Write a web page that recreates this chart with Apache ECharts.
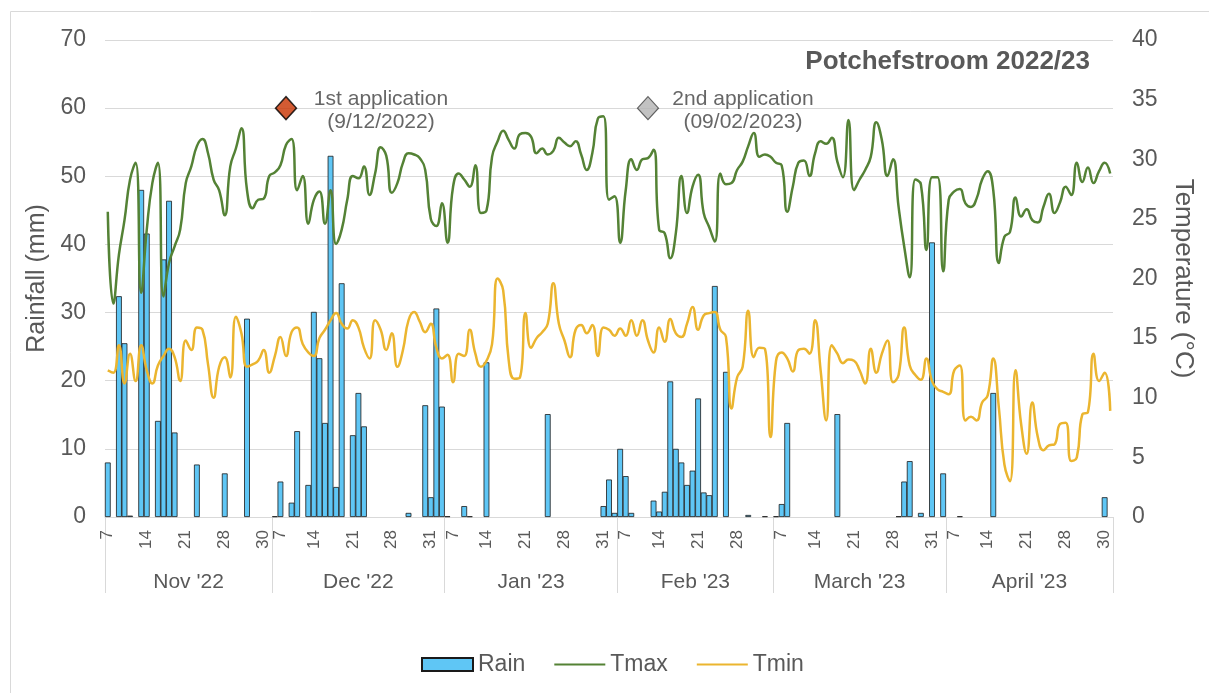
<!DOCTYPE html>
<html>
<head>
<meta charset="utf-8">
<title>Potchefstroom 2022/23</title>
<script src="https://cdn.jsdelivr.net/npm/echarts@6/dist/echarts.min.js"></script>
<style>
  html, body { margin: 0; padding: 0; background: #fff; }
  #chart { width: 1209px; height: 693px; }
</style>
</head>
<body>
<div id="chart"></div>
<script>
// month groups on the lower axis row
const monthNames = ["Nov '22", "Dec '22", "Jan '23", "Feb '23", "March '23", "April '23"]
const monthDays = [30, 31, 31, 28, 31, 30]
// day labels as printed in each month, and the day slot each one sits on
const dayLabelSlots = [
  [0, 7, 14, 21, 28], [1, 7, 14, 21, 28], [1, 7, 14, 21, 28],
  [1, 7, 14, 21], [1, 7, 14, 21, 28], [1, 7, 14, 21, 28]
]
const dayLabelTexts = [
  ['7', '14', '21', '28', '30'], ['7', '14', '21', '28', '31'], ['7', '14', '21', '28', '31'],
  ['7', '14', '21', '28'], ['7', '14', '21', '28', '31'], ['7', '14', '21', '28', '30']
]

// daily rainfall (mm), 1 Nov 2022 - 30 Apr 2023
const rain = [
  8.0, 0, 32.4, 25.5, 0.2, 0, 48.0, 41.6, 0, 14.1,
  37.8, 46.4, 12.4, 0, 0, 0, 7.7, 0, 0, 0,
  0, 6.4, 0, 0, 0, 29.1, 0, 0, 0, 0,
  0.1, 5.2, 0, 2.1, 12.6, 0, 4.7, 30.1, 23.3, 13.8,
  53.0, 4.4, 34.3, 0, 12.0, 18.2, 13.3, 0, 0, 0,
  0, 0, 0, 0, 0.6, 0, 0, 16.4, 2.9, 30.6,
  16.2, 0.1, 0, 0, 1.6, 0.1, 0, 0, 22.7, 0,
  0, 0, 0, 0, 0, 0, 0, 0, 0, 15.1,
  0, 0, 0, 0, 0, 0, 0, 0, 0, 1.6,
  5.5, 0.6, 10.0, 6.0, 0.6, 0, 0, 0, 2.4, 0.8,
  3.7, 19.9, 10.0, 8.0, 4.7, 6.8, 17.4, 3.6, 3.2, 33.9,
  0, 21.3, 0, 0, 0, 0.3, 0, 0, 0.1, 0,
  0.1, 1.9, 13.8, 0, 0, 0, 0, 0, 0, 0,
  0, 15.1, 0, 0, 0, 0, 0, 0, 0, 0,
  0, 0, 0.1, 5.2, 8.2, 0, 0.6, 0, 40.3, 0,
  6.4, 0, 0, 0.1, 0, 0, 0, 0, 0, 18.2,
  0, 0, 0, 0, 0, 0, 0, 0, 0, 0,
  0, 0, 0, 0, 0, 0, 0, 0, 0, 2.9,
  0
]
// daily maximum temperature (°C)
const tmax = [
  25.6, 17.9, 22.0, 24.9, 28.3, 29.7, 18.8, 24.1, 28.0, 29.7,
  18.5, 21.3, 22.7, 24.1, 28.0, 29.4, 31.1, 31.7, 30.5, 28.3,
  27.4, 25.3, 29.4, 30.9, 32.6, 27.4, 25.9, 26.6, 26.7, 28.6,
  28.9, 29.5, 31.2, 31.7, 27.4, 28.6, 24.6, 26.6, 27.3, 24.6,
  27.4, 22.9, 24.1, 26.6, 28.6, 28.4, 29.4, 27.0, 28.8, 31.0,
  30.3, 27.2, 28.0, 29.7, 30.5, 30.4, 30.1, 29.1, 25.0, 24.4,
  26.3, 23.0, 27.7, 28.8, 28.3, 27.7, 29.5, 25.5, 25.7, 30.2,
  31.5, 32.4, 31.6, 30.9, 32.1, 32.2, 31.9, 30.5, 30.9, 30.4,
  30.7, 31.8, 31.4, 31.1, 31.5, 30.4, 29.1, 30.5, 33.4, 33.6,
  26.6, 26.9, 23.0, 27.4, 30.0, 29.1, 30.0, 30.1, 30.8, 24.1,
  23.8, 21.7, 23.8, 28.6, 25.5, 27.7, 28.7, 25.5, 24.3, 23.1,
  28.8, 27.9, 28.0, 29.1, 29.8, 31.1, 32.2, 30.2, 30.4, 30.2,
  29.7, 29.5, 25.6, 27.7, 29.7, 29.9, 28.6, 30.5, 31.5, 31.3,
  31.8, 29.8, 28.5, 33.3, 27.4, 28.3, 29.1, 30.2, 33.1, 31.6,
  28.6, 30.0, 26.0, 22.7, 20.1, 28.3, 27.9, 22.4, 28.5, 28.5,
  20.6, 26.6, 27.3, 27.5, 26.3, 26.0, 26.7, 28.3, 29.0, 27.4,
  21.3, 23.5, 23.9, 26.8, 25.2, 25.8, 24.9, 24.7, 26.0, 27.1,
  25.5, 26.4, 27.7, 27.0, 29.7, 28.1, 29.3, 28.0, 29.0, 29.7,
  28.8
]
// daily minimum temperature (°C)
const tmin = [
  12.3, 12.1, 14.4, 11.2, 13.7, 11.4, 14.4, 12.3, 11.2, 12.7,
  13.5, 14.1, 13.4, 11.4, 14.8, 14.0, 15.9, 15.7, 12.8, 10.0,
  12.6, 13.4, 11.7, 16.8, 15.4, 12.6, 12.8, 13.1, 14.0, 12.1,
  13.5, 15.1, 13.5, 15.5, 15.9, 14.5, 13.8, 13.5, 15.0, 15.7,
  16.5, 17.1, 16.2, 15.8, 16.5, 15.9, 14.2, 13.3, 16.5, 15.7,
  14.0, 15.4, 12.6, 14.0, 16.5, 17.2, 16.4, 15.5, 16.2, 14.2,
  13.3, 13.6, 11.3, 13.7, 13.5, 15.7, 13.7, 12.6, 13.1, 14.5,
  20.0, 19.0, 13.1, 11.6, 11.7, 17.1, 14.2, 15.0, 15.5, 16.2,
  19.6, 16.2, 14.8, 13.4, 15.7, 16.1, 15.4, 16.1, 13.5, 15.9,
  15.7, 15.2, 15.8, 15.2, 16.5, 15.2, 16.5, 14.8, 13.8, 15.9,
  14.7, 16.6, 15.4, 15.1, 16.2, 17.6, 15.7, 16.9, 17.1, 17.2,
  15.7, 15.1, 9.1, 11.7, 12.6, 17.3, 13.4, 14.2, 14.1, 6.7,
  13.1, 13.8, 13.3, 12.2, 14.0, 14.1, 13.7, 16.5, 12.3, 8.1,
  14.4, 13.7, 12.9, 13.2, 13.1, 12.3, 11.2, 14.1, 12.1, 13.7,
  14.8, 11.3, 11.9, 15.9, 12.7, 11.9, 11.5, 13.3, 11.4, 10.7,
  10.5, 10.3, 12.3, 12.7, 8.1, 8.4, 8.1, 9.6, 10.2, 13.3,
  9.2, 4.4, 3.0, 12.3, 7.8, 5.3, 9.6, 6.7, 5.6, 6.0,
  6.1, 7.8, 7.9, 4.7, 5.0, 8.6, 8.8, 13.7, 11.4, 12.1,
  8.9
]

// spray applications: day slot, height on the rainfall axis, text
const appDays = [32, 97]
const appLevel = [60, 60]
const appLabels = ['1st application\n(9/12/2022)', '2nd application\n(09/02/2023)']

const days = []
const dayLabels = []
const monthStart = [0]
monthDays.forEach((n, m) => {
  for (let d = 0; d < n; d++) {
    days.push(monthNames[m] + ' ' + (d + 1))
    const k = dayLabelSlots[m].indexOf(d)
    dayLabels.push(k >= 0 ? dayLabelTexts[m][k] : '')
  }
  monthStart.push(monthStart[m] + n)
})
const monthMid = monthNames.map((_, m) => (monthStart[m] + monthStart[m + 1]) / 2)

const grey = '#595959'
const hideDot = { color: 'rgba(0,0,0,0)', borderWidth: 0 }

const option = {
  animation: false,
  textStyle: { fontFamily: 'Liberation Sans, Arial, sans-serif' },
  title: {
    text: 'Potchefstroom 2022/23',
    right: 119,
    top: 49,
    padding: 0,
    textStyle: { fontSize: 26, fontWeight: 'bold', color: grey }
  },
  legend: {
    top: 648,
    left: 416,
    itemWidth: 51,
    itemHeight: 13,
    itemGap: 28,
    textStyle: { fontSize: 23, color: grey },
    data: [
      { name: 'Rain', icon: 'rect' },
      { name: 'Tmax', itemStyle: hideDot },
      { name: 'Tmin', itemStyle: hideDot }
    ]
  },
  graphic: [{
    type: 'rect',
    left: 8,
    top: 9,
    silent: true,
    z: -10,
    shape: { width: 1300, height: 800 },
    style: { fill: 'none', stroke: '#d9d9d9', lineWidth: 1 }
  }],
  grid: { left: 105, right: 96, top: 40, bottom: 176 },
  xAxis: [
    {
      type: 'category',
      data: days,
      axisLine: { lineStyle: { color: '#d9d9d9' } },
      axisTick: { show: false },
      axisLabel: {
        interval: 0,
        rotate: 90,
        margin: 13,
        fontSize: 17,
        color: grey,
        formatter: (v, i) => dayLabels[i]
      }
    },
    {
      // month row: separators at month edges, names in the middle
      type: 'value',
      min: 0,
      max: days.length,
      position: 'bottom',
      axisLine: { show: false },
      splitLine: { show: false },
      axisTick: {
        show: true,
        customValues: monthStart,
        length: 76,
        lineStyle: { color: '#d9d9d9' }
      },
      axisLabel: {
        customValues: monthMid,
        margin: 55,
        fontSize: 21,
        color: grey,
        formatter: v => monthNames[monthMid.indexOf(v)]
      }
    }
  ],
  yAxis: [
    {
      type: 'value',
      min: 0,
      max: 70,
      interval: 10,
      name: 'Rainfall (mm)',
      nameLocation: 'middle',
      nameGap: 54,
      nameTextStyle: { fontSize: 25, color: grey },
      axisLine: { show: false },
      axisTick: { show: false },
      axisLabel: { fontSize: 23, color: grey, margin: 19 },
      splitLine: { lineStyle: { color: '#d9d9d9' } }
    },
    {
      type: 'value',
      min: 0,
      max: 40,
      interval: 5,
      position: 'right',
      name: 'Temperature (°C)',
      nameLocation: 'middle',
      nameRotate: -90,
      nameGap: 57,
      nameTextStyle: { fontSize: 26, color: grey },
      axisLine: { show: false },
      axisTick: { show: false },
      axisLabel: { fontSize: 23, color: grey, margin: 19 },
      splitLine: { show: false }
    }
  ],
  series: [
    {
      name: 'Rain',
      type: 'bar',
      xAxisIndex: 0,
      yAxisIndex: 0,
      data: rain.map(v => (v > 0 ? v : '-')),
      barWidth: 5.8,
      itemStyle: { color: '#5fc6f5', borderColor: '#1a1a1a', borderWidth: 0.8 }
    },
    {
      name: 'Tmax',
      type: 'line',
      yAxisIndex: 1,
      data: tmax,
      smooth: true,
      symbol: 'none',
      lineStyle: { color: '#548235', width: 2.5 },
      itemStyle: { color: '#548235' }
    },
    {
      name: 'Tmin',
      type: 'line',
      yAxisIndex: 1,
      data: tmin,
      smooth: true,
      symbol: 'none',
      lineStyle: { color: '#ebb52f', width: 2.5 },
      itemStyle: { color: '#ebb52f' }
    },
    {
      name: 'Application',
      type: 'scatter',
      symbol: 'diamond',
      symbolSize: [21, 23],
      z: 5,
      data: appDays.map((d, k) => ({
        value: [d, appLevel[k]],
        itemStyle: k === 0
          ? { color: '#c83200', borderColor: '#000', borderWidth: 1.5 }
          : { color: '#b3b3b3', borderColor: '#404040', borderWidth: 1.2 }
      })),
      label: {
        show: true,
        position: 'inside',
        align: 'center',
        verticalAlign: 'middle',
        offset: [95, 3],
        fontSize: 21,
        lineHeight: 23,
        color: '#404040',
        formatter: p => appLabels[p.dataIndex]
      }
    }
  ]
}

const myChart = echarts.init(document.getElementById('chart'))
myChart.setOption(option)
</script>
</body>
</html>
